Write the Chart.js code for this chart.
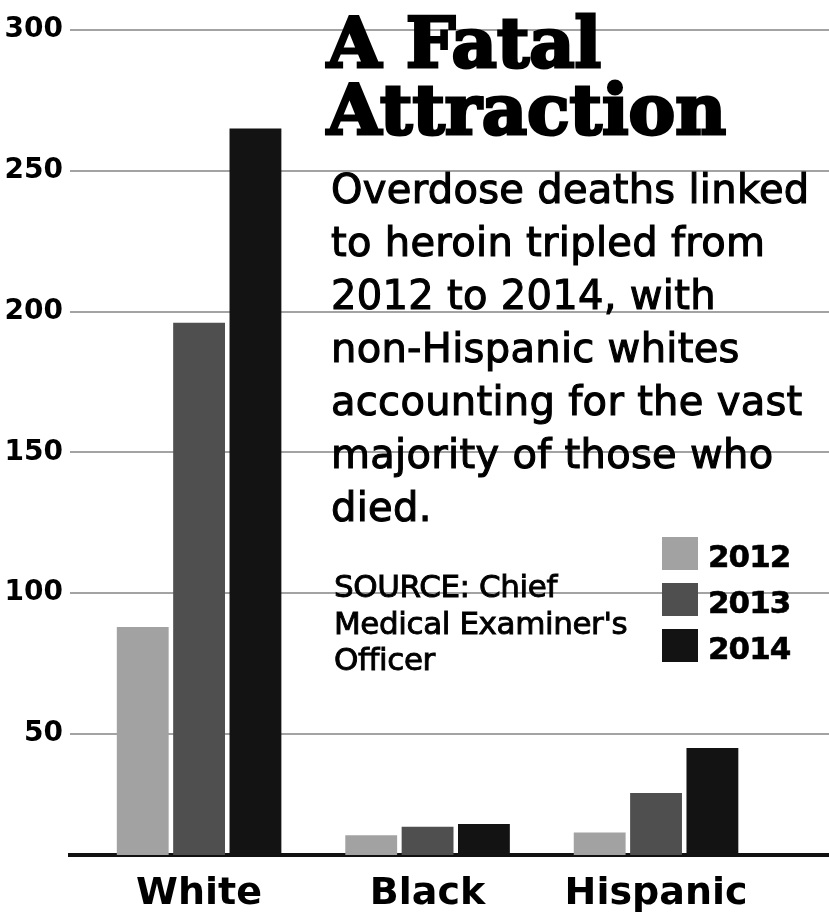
<!DOCTYPE html>
<html>
<head>
<meta charset="utf-8">
<script src="https://cdn.jsdelivr.net/npm/chart.js@4.4.1/dist/chart.umd.min.js"></script>
<style>
  body { margin: 0; background: #fff; }
  #wrap { position: relative; width: 829px; height: 918px; overflow: hidden; }
  #chart { position: absolute; left: 0; top: 0; }
  .txt { position: absolute; color: #000; white-space: nowrap; }
  #title { left: 327px; top: 9px; font-family: "DejaVu Serif", serif; font-weight: bold;
           font-size: 70px; line-height: 67px; -webkit-text-stroke: 3px #000; letter-spacing: 0px; }
  #subtitle { left: 331px; top: 163px; font-family: "DejaVu Sans", sans-serif;
              font-size: 40px; line-height: 53px; letter-spacing: 0.3px; -webkit-text-stroke: 1.1px #000; }
  #source { left: 334px; top: 568px; font-family: "DejaVu Sans", sans-serif;
            font-size: 31px; line-height: 36.5px; letter-spacing: -0.4px; -webkit-text-stroke: 0.9px #000; }
  .leg { position: absolute; left: 662px; height: 34px; }
  .leg .box { position: absolute; left: 0; top: 0; width: 36px; height: 33px; }
  .leg .lab { position: absolute; left: 46px; top: 1px; font-family: "DejaVu Sans", sans-serif;
              font-weight: bold; font-size: 31px; line-height: 36px; letter-spacing: -1px; -webkit-text-stroke: 0.6px #000; }
</style>
</head>
<body>
<div id="wrap">
  <canvas id="chart" width="829" height="918"></canvas>
  <div class="txt" id="title">A Fatal<br>Attraction</div>
  <div class="txt" id="subtitle">Overdose deaths linked<br>to heroin tripled from<br>2012 to 2014, with<br>non-Hispanic whites<br>accounting for the vast<br>majority of those who<br>died.</div>
  <div class="txt" id="source">SOURCE: Chief<br>Medical Examiner's<br>Officer</div>
  <div id="legend"></div>
</div>
<script>
// dados (mortes por overdose ligadas a heroina)
const categories = ['White', 'Black', 'Hispanic'];
const seriesNames = ['2012', '2013', '2014'];
const deaths2012 = [88, 14, 15];
const deaths2013 = [196, 17, 29];
const deaths2014 = [265, 18, 45];
const yTicks = [50, 100, 150, 200, 250, 300];

const seriesColors = ['#a2a2a2', '#4f4f4f', '#131313'];
const seriesValues = [deaths2012, deaths2013, deaths2014];

// legenda em html, montada a partir das series
const legend = document.getElementById('legend');
for (let i = 0; i < seriesNames.length; i++) {
  const row = document.createElement('div');
  row.className = 'leg';
  row.style.top = (537 + i * 46) + 'px';
  const box = document.createElement('div');
  box.className = 'box';
  box.style.background = seriesColors[i];
  const lab = document.createElement('div');
  lab.className = 'lab';
  lab.textContent = seriesNames[i];
  row.appendChild(box);
  row.appendChild(lab);
  legend.appendChild(row);
}

const datasets = seriesNames.map((name, i) => ({
  label: name,
  backgroundColor: seriesColors[i],
  borderWidth: 0,
  categoryPercentage: 0.74,
  barPercentage: 0.92,
  data: seriesValues[i].map((v, j) => ({ x: j, y: v }))
}));

new Chart(document.getElementById('chart'), {
  type: 'bar',
  data: { datasets: datasets },
  options: {
    responsive: false,
    animation: false,
    layout: { padding: { top: 30, right: 0, left: 0, bottom: 0 } },
    plugins: { legend: { display: false }, tooltip: { enabled: false } },
    scales: {
      x: {
        type: 'linear',
        offset: false,
        min: -0.565,
        max: 2.757,
        grid: { display: false, drawTicks: false, offset: false },
        border: { display: true, color: '#111', width: 4 },
        afterBuildTicks: (s) => { s.ticks = categories.map((c, i) => ({ value: i })); },
        afterFit: (s) => { s.height = 63; },
        ticks: {
          autoSkip: false,
          maxRotation: 0,
          padding: 16,
          color: '#000',
          font: { family: 'DejaVu Sans', weight: 'bold', size: 38 },
          callback: (v) => categories[v]
        }
      },
      y: {
        min: 7,
        max: 300,
        afterBuildTicks: (s) => { s.ticks = yTicks.map(v => ({ value: v })); },
        afterFit: (s) => { s.width = 70; },
        grid: { color: '#a3a3a3', lineWidth: 2, drawTicks: false },
        border: { display: false },
        ticks: {
          padding: 7,
          color: '#000',
          font: { family: 'DejaVu Sans', weight: 'bold', size: 28 }
        }
      }
    }
  }
});
</script>
</body>
</html>
